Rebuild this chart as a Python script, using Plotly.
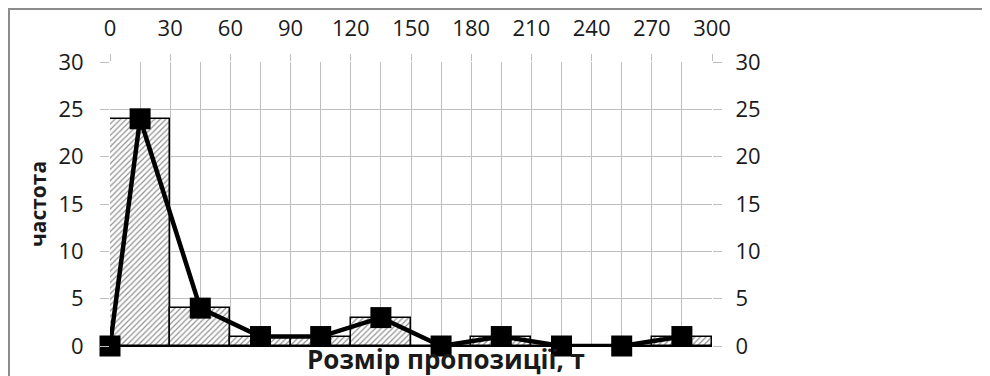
import plotly.graph_objects as go

# data
bin_centers = [15, 45, 75, 105, 135, 165, 195, 225, 255, 285]
bin_freq = [24, 4, 1, 1, 3, 0, 1, 0, 0, 1]
poly_x = [0, 15, 45, 75, 105, 135, 165, 195, 225, 255, 285]
poly_y = [0, 24, 4, 1, 1, 3, 0, 1, 0, 0, 1]
x_ticks = [0, 30, 60, 90, 120, 150, 180, 210, 240, 270, 300]
y_ticks = [0, 5, 10, 15, 20, 25, 30]
x_title = "Розмір пропозиції, т"
y_title = "частота"

FONT = "Open Sans"
TXT = "#1a1a1a"
GRID = "#BEBEBE"

# figure geometry (page body has 8px margin)
W, H = 982, 368
L, R, T, B = 102, 278, 54, 30
PW, PH = W - L - R, H - T - B


def px(x):
    return (x - L) / PW


def py(y):
    return (H - B - y) / PH


fig = go.Figure()
fig.add_trace(go.Bar(
    x=bin_centers, y=bin_freq, width=30,
    marker=dict(color="white",
                line=dict(color="black", width=1.5),
                pattern=dict(shape="/", fgcolor="#222222", bgcolor="white",
                             size=4, solidity=0.3)),
    showlegend=False, hoverinfo="skip"))
fig.add_trace(go.Scatter(
    x=poly_x, y=poly_y, mode="lines+markers",
    line=dict(color="black", width=4.5),
    marker=dict(symbol="square", size=21, color="black"),
    showlegend=False, cliponaxis=False))
fig.add_trace(go.Scatter(x=[0], y=[0], yaxis="y2", mode="markers",
                         marker=dict(opacity=0), showlegend=False, hoverinfo="skip"))

TF = dict(size=22, color=TXT, family=FONT)
fig.update_layout(
    width=W, height=H,
    margin=dict(l=L, r=R, t=T, b=B, autoexpand=False),
    paper_bgcolor="white", plot_bgcolor="white",
    font=dict(family=FONT, size=22, color=TXT),
    bargap=0,
    xaxis=dict(range=[0, 300], side="top", tickvals=x_ticks, automargin=False,
               showgrid=True, gridcolor=GRID, gridwidth=1,
               minor=dict(dtick=15, tick0=0, showgrid=True, gridcolor=GRID, gridwidth=1),
               ticks="outside", ticklen=7, tickcolor=GRID, ticklabelstandoff=9,
               showline=False, zeroline=False, tickfont=TF),
    yaxis=dict(range=[0, 30], tickvals=y_ticks, showgrid=True, gridcolor=GRID,
               automargin=False,
               ticks="outside", ticklen=9, tickcolor=GRID, ticklabelstandoff=12,
               zeroline=True, zerolinecolor="#000000", zerolinewidth=1.5,
               showline=False, tickfont=TF),
    yaxis2=dict(range=[0, 30], tickvals=y_ticks, overlaying="y", side="right",
                automargin=False,
                showgrid=False, ticks="outside", ticklen=9, tickcolor=GRID,
                ticklabelstandoff=9,
                zeroline=False, showline=False, tickfont=TF),
    annotations=[
        dict(text="<b>" + x_title + "</b>", xref="paper", yref="paper",
             x=px(438), y=py(H), yanchor="bottom", xanchor="center", yshift=-3,
             showarrow=False, font=dict(size=26, color=TXT, family=FONT)),
        dict(text="<b>" + y_title + "</b>", xref="paper", yref="paper",
             x=px(30), y=py(196), textangle=-90,
             xanchor="center", yanchor="middle", showarrow=False,
             font=dict(size=21, color=TXT, family=FONT)),
    ],
    shapes=[dict(type="rect", xref="paper", yref="paper",
                 x0=px(1), x1=px(W + 20), y0=py(H + 20), y1=py(1),
                 line=dict(color="#8C8C8C", width=2), layer="below")],
)

fig.write_html("out.html")
